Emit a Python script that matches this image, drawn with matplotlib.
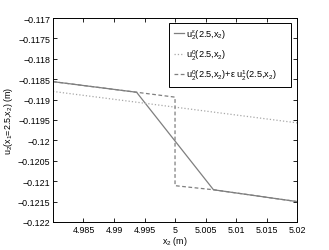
import matplotlib
matplotlib.use("Agg")
import matplotlib.pyplot as plt

plt.rcParams['font.family'] = ['Liberation Sans', 'DejaVu Sans']
plt.rcParams['mathtext.fontset'] = 'custom'
plt.rcParams['mathtext.rm'] = 'Liberation Sans'
plt.rcParams['mathtext.it'] = 'Liberation Sans'
plt.rcParams['mathtext.default'] = 'regular'

# data
x_eps = [4.98, 4.9937, 5.0063, 5.02]
u_eps = [-0.11856, -0.11882, -0.12121, -0.12150]

x_hom = [4.98, 5.02]
u_hom = [-0.11880, -0.11957]

x_corr = [4.98, 4.9937, 5.0, 5.0, 5.0063, 5.02]
u_corr = [-0.11856, -0.11882, -0.11894, -0.12111, -0.12121, -0.12150]

xticks = [4.985, 4.99, 4.995, 5.0, 5.005, 5.01, 5.015, 5.02]
xticklabels = ['4.985', '4.99', '4.995', '5', '5.005', '5.01', '5.015', '5.02']
yticks = [-0.117, -0.1175, -0.118, -0.1185, -0.119, -0.1195, -0.12, -0.1205, -0.121, -0.1215, -0.122]
yticklabels = ['\u22120.117', '\u22120.1175', '\u22120.118', '\u22120.1185', '\u22120.119', '\u22120.1195',
               '\u22120.12', '\u22120.1205', '\u22120.121', '\u22120.1215', '\u22120.122']

fig = plt.figure(figsize=(3.29, 2.51), dpi=100)
ax = fig.add_axes([0.161, 0.1116, 0.742, 0.8127])

gray = '#7f7f7f'
fs = 6.4
ax.plot(x_eps, u_eps, color=gray, lw=0.9, ls='-', label=r'u$_2^{\epsilon}$(2.5,x$_2$)')
ax.plot(x_hom, u_hom, color='#a8a8a8', lw=0.9, ls=':', label=r'u$_2^0$(2.5,x$_2$)')
ax.plot(x_corr, u_corr, color=gray, lw=0.9, ls=(0, (3, 2)), label=r'u$_2^0$(2.5,x$_2$)+$\epsilon$ u$_2^1$(2.5,x$_2$)')

ax.set_xlim(4.98, 5.02)
ax.set_ylim(-0.122, -0.117)
ax.set_xticks(xticks)
ax.set_xticklabels(xticklabels)
ax.set_yticks(yticks)
ax.set_yticklabels(yticklabels)
ax.tick_params(direction='in', top=True, right=True, labelsize=fs, length=3, width=0.6, pad=2)
for s in ax.spines.values():
    s.set_linewidth(0.7)

ax.set_xlabel(r'x$_2$ (m)', fontsize=fs, labelpad=0)
ax.set_ylabel(r'u$_2$(x$_1$=2.5,x$_2$) (m)', fontsize=fs, labelpad=2)

leg = ax.legend(loc='upper left', bbox_to_anchor=(0.475, 0.975, 0.5, 0.0), mode='expand',
                fontsize=6.6, handlelength=1.1, handletextpad=0.3, borderpad=0.5,
                labelspacing=0.68, fancybox=False, framealpha=1,
                edgecolor='black', borderaxespad=0)
leg.get_frame().set_linewidth(0.7)

fig.savefig('out.png', dpi=100)
